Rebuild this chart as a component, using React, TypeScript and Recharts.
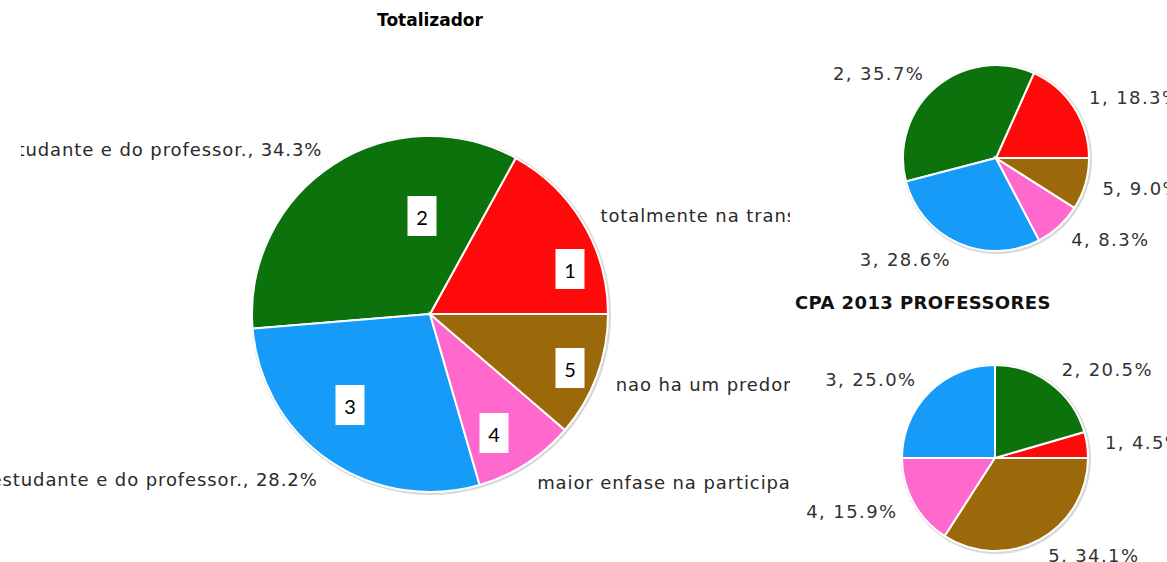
import { Cell, Pie, PieChart } from "recharts";

const CATEGORIES = ["1", "2", "3", "4", "5"];
const COLORS = ["#ff0a0a", "#0c720c", "#169bf8", "#ff68cc", "#9b6909"];

// Totalizador (big pie), text of each answer
const TOTAL_TEXTS = [
  "totalmente na transmissao de conteudos pelo professor.",
  "participacao equilibrada do estudante e do professor.",
  "maior enfase na transmissao, com participacao do estudante e do professor.",
  "maior enfase na participacao do estudante.",
  "nao ha um predominio de metodologia.",
];
const TOTAL_VALUES = [17.0, 34.3, 28.2, 9.2, 11.3];

// top right pie (students) and bottom right pie (professors)
const ALUNOS_VALUES = [18.3, 35.7, 28.6, 8.3, 9.0];
const PROF_VALUES = [4.5, 20.5, 25.0, 15.9, 34.1];
const PROF_ORDER = [2, 3, 4, 0, 1];

// annotation boxes drawn over the big pie, offset from its centre
const BOX_OFFSETS = [
  [140, -45],
  [-8, -98],
  [-80, 91],
  [64, 119],
  [140, 54],
];

const RAD = Math.PI / 180;
const FONT = "'DejaVu Sans', Verdana, sans-serif";
const NO_MARGIN = { top: 0, right: 0, bottom: 0, left: 0 };

const totalData = CATEGORIES.map((c, i) => ({
  name: c,
  text: TOTAL_TEXTS[i],
  value: TOTAL_VALUES[i],
  color: COLORS[i],
}));
const alunosData = CATEGORIES.map((c, i) => ({ name: c, value: ALUNOS_VALUES[i], color: COLORS[i] }));
const profData = PROF_ORDER.map((i) => ({ name: CATEGORIES[i], value: PROF_VALUES[i], color: COLORS[i] }));

function labelPos(p: any, gap: number) {
  const r = p.outerRadius + gap;
  const x = p.cx + r * Math.cos(-p.midAngle * RAD);
  const y = p.cy + r * Math.sin(-p.midAngle * RAD);
  return { x, y, anchor: x > p.cx ? "start" : "end" };
}

function BigLabel(p: any) {
  const { x, y, anchor } = labelPos(p, 20);
  const d = p.payload;
  const [dx, dy] = BOX_OFFSETS[p.index];
  const bx = p.cx + dx;
  const by = p.cy + dy;
  return (
    <g>
      {p.index === 1 && (
        <defs>
          <clipPath id="clipLeft2">
            <rect x={21} y={0} width={800} height={562} />
          </clipPath>
        </defs>
      )}
      <text
        x={x}
        y={y + 2}
        textAnchor={anchor}
        dominantBaseline="central"
        fill="#2a2a2a"
        fontSize={18}
        letterSpacing={0.9}
        fontFamily={FONT}
        clipPath={p.index === 1 ? "url(#clipLeft2)" : undefined}
      >
        {`${d.text}, ${d.value.toFixed(1)}%`}
      </text>
      <rect x={bx - 14.5} y={by - 20} width={29} height={40} fill="#fff" />
      <text
        x={bx}
        y={by + 1}
        textAnchor="middle"
        dominantBaseline="central"
        fill="#000"
        fontSize={20}
        fontFamily="Lato, 'Open Sans', sans-serif"
      >
        {d.name}
      </text>
    </g>
  );
}

function SmallLabel(p: any) {
  const { x, y, anchor } = labelPos(p, 18);
  const d = p.payload;
  return (
    <text
      x={x}
      y={y}
      textAnchor={anchor}
      dominantBaseline="central"
      fill="#333"
      fontSize={18}
      letterSpacing={1.4}
      fontFamily={FONT}
    >
      {`${d.name}, ${d.value.toFixed(1)}%`}
    </text>
  );
}

function ShadowPie({ cx, cy, r }: { cx: number; cy: number; r: number }) {
  return (
    <Pie
      data={[{ value: 1 }]}
      dataKey="value"
      cx={cx + 1}
      cy={cy + 1}
      outerRadius={r + 2}
      fill="#d9d9d9"
      stroke="none"
      isAnimationActive={false}
    />
  );
}

export default function App() {
  return (
    <div style={{ position: "absolute", left: 0, top: 0, width: 1167, height: 562, background: "#fff" }}>
      <div
        style={{
          position: "absolute",
          left: 0,
          width: 860,
          top: 10,
          textAlign: "center",
          fontFamily: FONT,
          fontWeight: "bold",
          fontSize: 17,
          color: "#000",
        }}
      >
        Totalizador
      </div>
      <div
        style={{
          position: "absolute",
          left: 795,
          top: 292,
          fontFamily: FONT,
          fontWeight: "bold",
          fontSize: 18,
          letterSpacing: 0.4,
          color: "#111",
          whiteSpace: "nowrap",
        }}
      >
        CPA 2013 PROFESSORES
      </div>

      <div style={{ position: "absolute", left: 0, top: 0 }}>
        <PieChart width={790} height={562} margin={NO_MARGIN}>
          {ShadowPie({ cx: 430, cy: 314, r: 178 })}
          <Pie
            data={totalData}
            dataKey="value"
            cx={430}
            cy={314}
            outerRadius={178}
            startAngle={0}
            endAngle={360}
            stroke="#fff"
            strokeWidth={2}
            labelLine={false}
            label={BigLabel}
            isAnimationActive={false}
          >
            {totalData.map((d) => (
              <Cell key={d.name} fill={d.color} />
            ))}
          </Pie>
        </PieChart>
      </div>

      <div style={{ position: "absolute", left: 790, top: 0 }}>
        <PieChart width={377} height={290} margin={NO_MARGIN}>
          {ShadowPie({ cx: 206, cy: 158, r: 93 })}
          <Pie
            data={alunosData}
            dataKey="value"
            cx={206}
            cy={158}
            outerRadius={93}
            startAngle={0}
            endAngle={360}
            stroke="#fff"
            strokeWidth={2}
            labelLine={false}
            label={SmallLabel}
            isAnimationActive={false}
          >
            {alunosData.map((d) => (
              <Cell key={d.name} fill={d.color} />
            ))}
          </Pie>
        </PieChart>
      </div>

      <div style={{ position: "absolute", left: 790, top: 290 }}>
        <PieChart width={377} height={272} margin={NO_MARGIN}>
          {ShadowPie({ cx: 205, cy: 168, r: 93 })}
          <Pie
            data={profData}
            dataKey="value"
            cx={205}
            cy={168}
            outerRadius={93}
            startAngle={90}
            endAngle={450}
            stroke="#fff"
            strokeWidth={2}
            labelLine={false}
            label={SmallLabel}
            isAnimationActive={false}
          >
            {profData.map((d) => (
              <Cell key={d.name} fill={d.color} />
            ))}
          </Pie>
        </PieChart>
      </div>
    </div>
  );
}
